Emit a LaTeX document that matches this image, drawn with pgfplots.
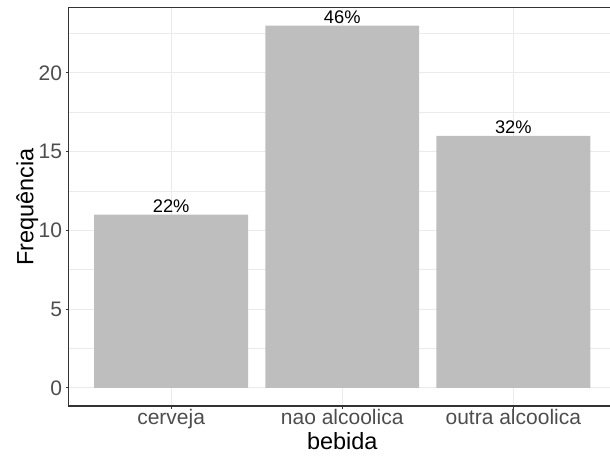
\documentclass[border=0pt]{standalone}
\usepackage{fontspec}
\setmainfont{Liberation Sans}
\usepackage{pgfplots}
\pgfplotsset{compat=1.18}
\definecolor{gridc}{HTML}{EBEBEB}
\definecolor{borderc}{HTML}{333333}
\definecolor{tickc}{HTML}{4D4D4D}
\definecolor{barc}{HTML}{BEBEBE}
\begin{document}
\begin{tikzpicture}
\path[use as bounding box] (-51.375pt,-39.75pt) rectangle (406.125pt,304.5pt);
\begin{axis}[
 at={(0,0)}, anchor=south west,
 scale only axis, width=410.625pt, height=298.875pt,
 xmin=0.4, xmax=3.6, ymin=-1.15, ymax=24.15,
 xtick={1,2,3}, xticklabels={cerveja, nao alcoolica, outra alcoolica},
 ytick={0,5,10,15,20}, minor ytick={2.5,7.5,12.5,17.5,22.5},
 /pgf/number format/assume math mode=true,
 grid=both,
 major grid style={gridc, line width=0.9pt},
 minor grid style={gridc, line width=0.45pt},
 axis line style={borderc, line width=0.8pt},
 tick style={borderc, line width=0.8pt},
 major tick length=2.2pt, minor tick length=0pt,
 tick align=outside, tick pos=left,
 ticklabel style={font=\fontsize{15.75}{18}\selectfont, text=tickc},
 xticklabel style={anchor=base, yshift=-11.5pt},
 yticklabel style={anchor=east, inner sep=0pt, xshift=-2.4pt},
 label style={font=\fontsize{17.6}{20}\selectfont},
 xlabel={bebida}, ylabel={Frequência},
 xlabel style={at={(axis description cs:0.5,-0.1104)}, anchor=base},
 ylabel style={at={(axis description cs:-0.0643,0.5)}, anchor=base},
 nodes near coords, point meta=explicit symbolic,
 nodes near coords style={font=\fontsize{13.7}{16}\selectfont, text=black, anchor=base, yshift=1.5pt},
]
\addplot[ybar, bar width=0.9, bar shift=0pt, fill=barc, draw=none] coordinates {(1,11)[22\%] (2,23)[46\%] (3,16)[32\%]};
\end{axis}
\end{tikzpicture}
\end{document}
